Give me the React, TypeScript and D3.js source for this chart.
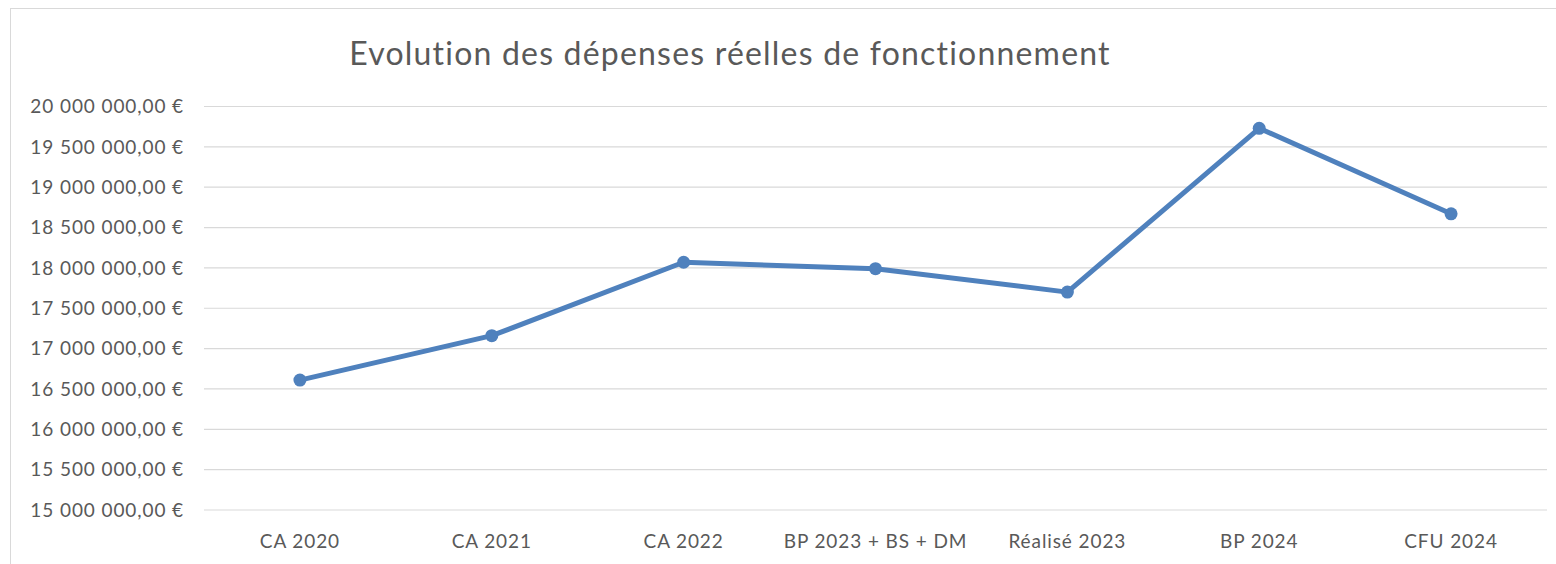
import React from 'react';
import * as d3 from 'd3';

const categories = ['CA 2020', 'CA 2021', 'CA 2022', 'BP 2023 + BS + DM', 'Réalisé 2023', 'BP 2024', 'CFU 2024'];
const values = [16610000, 17160000, 18070000, 17990000, 17700000, 19730000, 18670000];
const yTicks = [15000000, 15500000, 16000000, 16500000, 17000000, 17500000, 18000000, 18500000, 19000000, 19500000, 20000000];

const W = 1556, H = 564;
const FONT = 'Lato, "Open Sans", sans-serif';
const LINE = '#4f81bd';

const fmt = (v: number) => d3.format(',.2f')(v).replace(/,/g, ' ').replace('.', ',') + ' €';

export default function App() {
  const x = d3.scaleBand().domain(categories).range([204, 1547]);
  const y = d3.scaleLinear().domain([15000000, 20000000]).range([510, 106.5]);
  const cx = (i: number) => (x(categories[i]) as number) + x.bandwidth() / 2;
  const line = d3.line<number>().x((_, i) => cx(i)).y(d => y(d));

  return (
    <svg width={W} height={H} style={{ position: 'absolute', left: 0, top: 0, fontFamily: FONT }}>
      <rect x={0} y={0} width={W} height={H} fill="#fff" />
      <rect x={10.5} y={8.5} width={W} height={H} fill="#fff" stroke="#d9d9d9" strokeWidth={1} />
      <text x={730} y={65} textAnchor="middle" fontSize={32} letterSpacing={1.2} fill="#595959">
        Evolution des dépenses réelles de fonctionnement
      </text>
      {yTicks.map(t => (
        <g key={t}>
          <line x1={204} x2={1547} y1={y(t)} y2={y(t)} stroke="#d9d9d9" strokeWidth={1.2} />
          <text x={184} y={y(t)} dy="0.36em" textAnchor="end" fontSize={19} letterSpacing={0.9} fill="#595959">{fmt(t)}</text>
        </g>
      ))}
      {categories.map((c, i) => (
        <text key={c} x={cx(i)} y={548} textAnchor="middle" fontSize={19} letterSpacing={0.9} fill="#595959">{c}</text>
      ))}
      <path d={line(values) || ''} fill="none" stroke={LINE} strokeWidth={5} strokeLinejoin="round" />
      {values.map((v, i) => (
        <circle key={i} cx={cx(i)} cy={y(v)} r={6.5} fill={LINE} />
      ))}
    </svg>
  );
}
